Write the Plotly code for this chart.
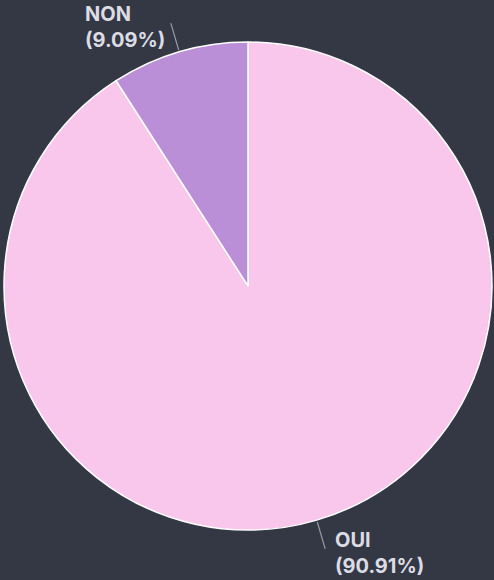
import math
import plotly.graph_objects as go

# Survey answers
labels = ["OUI", "NON"]
values = [10, 1]
colors = ["#F9C6EC", "#BA8FD8"]

W, H = 494, 580
BG = "#343744"

# Pie placement in pixels (centre and radius)
cx, cy, r = 248, 286, 244

fig = go.Figure(go.Pie(
    labels=labels,
    values=values,
    sort=False,
    direction="clockwise",
    rotation=0,
    marker=dict(colors=colors, line=dict(color="#ffffff", width=1.5)),
    textinfo="none",
    hoverinfo="label+percent",
    domain=dict(x=[(cx - r) / W, (cx + r) / W],
                y=[1 - (cy + r) / H, 1 - (cy - r) / H]),
    showlegend=False,
))

# Outside labels with short radial leader lines
total = sum(values)
shapes, annotations = [], []
start = 0.0
for lab, val in zip(labels, values):
    frac = val / total
    mid = (start + frac / 2) * 2 * math.pi  # clockwise from 12 o'clock
    start += frac
    dx, dy = math.sin(mid), -math.cos(mid)  # pixel direction (y downward)
    x0, y0 = cx + dx * (r + 2), cy + dy * (r + 2)
    x1, y1 = cx + dx * (r + 30), cy + dy * (r + 30)
    shapes.append(dict(type="line", xref="paper", yref="paper",
                       x0=x0 / W, y0=1 - y0 / H, x1=x1 / W, y1=1 - y1 / H,
                       line=dict(color="#9a9aa8", width=1.2)))
    right_side = dx >= 0
    annotations.append(dict(
        xref="paper", yref="paper",
        x=(x1 + (8 if right_side else -4)) / W, y=1 - (y1 + 4) / H,
        xanchor="left" if right_side else "right", yanchor="middle",
        align="left",
        text=f"{lab}<br>({frac * 100:.2f}%)",
        showarrow=False,
        font=dict(family="Inter, Lato, sans-serif", size=20, color="#dcdce4", weight=700),
    ))

fig.update_layout(
    width=W, height=H,
    margin=dict(l=0, r=0, t=0, b=0),
    paper_bgcolor=BG, plot_bgcolor=BG,
    shapes=shapes, annotations=annotations,
)

fig.write_html("out.html")
